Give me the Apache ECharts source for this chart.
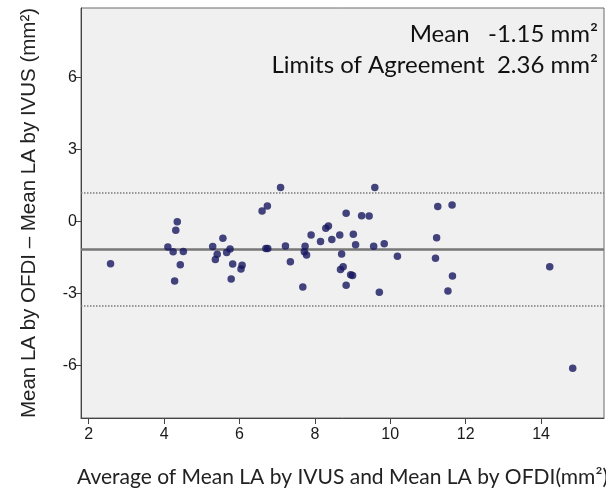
<!DOCTYPE html>
<html>
<head>
<meta charset="utf-8">
<script src="https://cdn.jsdelivr.net/npm/echarts@6/dist/echarts.min.js"></script>
<style>
  html, body { margin: 0; padding: 0; background: #ffffff; }
  #chart { width: 606px; height: 489px; }
</style>
</head>
<body>
<div id="chart"></div>
<script>
// Bland–Altman comparison of mean lumen area, OFDI vs IVUS
const avgArea = [
  2.58, 4.35, 4.31, 4.10, 4.24, 4.51, 4.43, 4.28,
  5.29, 5.41, 5.36, 5.56, 5.66, 5.75, 5.82, 6.04, 6.07, 5.78,
  6.60, 6.74, 7.09, 6.70, 6.75, 7.22, 7.35, 7.74, 7.72, 7.78, 7.68,
  7.90, 8.15, 8.29, 8.36, 8.45, 8.66, 8.71, 8.83, 9.02, 9.08,
  8.68, 8.75, 8.95, 9.00, 8.83, 9.24, 9.44, 9.59, 9.56, 9.84,
  10.19, 9.71, 11.26, 11.64, 11.23, 11.20, 11.65, 11.53, 14.23, 14.84
];
const diffArea = [
  -1.75, 0.00, -0.36, -1.06, -1.25, -1.24, -1.80, -2.47,
  -1.04, -1.36, -1.58, -0.69, -1.29, -1.14, -1.76, -1.97, -1.82, -2.39,
  0.44, 0.65, 1.42, -1.12, -1.12, -1.01, -1.67, -1.03, -1.25, -1.39, -2.72,
  -0.56, -0.83, -0.28, -0.18, -0.74, -0.56, -1.35, 0.35, -0.53, -0.96,
  -1.99, -1.88, -2.21, -2.24, -2.65, 0.25, 0.24, 1.42, -1.03, -0.92,
  -1.44, -2.94, 0.63, 0.69, -0.67, -1.53, -2.26, -2.89, -1.88, -6.11
];
const meanDiff = -1.15;
const limitsOfAgreement = 2.36;
const xTicks = [2, 4, 6, 8, 10, 12, 14];
const yTicks = [-6, -3, 0, 3, 6];

const points = avgArea.map((x, i) => [x, diffArea[i]]);
const upperLimit = +(meanDiff + limitsOfAgreement).toFixed(2);
const lowerLimit = +(meanDiff - limitsOfAgreement).toFixed(2);

const chart = echarts.init(document.getElementById('chart'), null, { renderer: 'canvas' });

const tickFont = { fontFamily: 'Liberation Sans', fontSize: 16, color: '#1a1a1a' };
const noteFont = { fontFamily: 'Lato', fontSize: 24, fill: '#111', textAlign: 'right', textVerticalAlign: 'middle' };

chart.setOption({
  animation: false,
  backgroundColor: '#ffffff',
  grid: {
    left: 81, top: 8, right: 2, bottom: 71,
    outerBoundsMode: 'none',
    containLabel: false,
    show: true,
    backgroundColor: '#f0f0f0',
    borderColor: '#6a6a6a',
    borderWidth: 1
  },
  xAxis: {
    type: 'value',
    min: 1.796,
    max: 15.67,
    splitLine: { show: false },
    axisLine: { show: true, onZero: false, lineStyle: { color: '#444', width: 1 } },
    axisTick: { show: true, length: 6, customValues: xTicks, lineStyle: { color: '#444' } },
    axisLabel: Object.assign({ customValues: xTicks, margin: 9 }, tickFont),
    name: 'Average of Mean LA by IVUS and Mean LA by OFDI(mm²)',
    nameLocation: 'middle',
    nameGap: 49,
    nameTextStyle: { fontFamily: 'Lato', fontSize: 21, color: '#222' }
  },
  yAxis: {
    type: 'value',
    min: -8.18,
    max: 8.9,
    splitLine: { show: false },
    axisLine: { show: true, onZero: false, lineStyle: { color: '#444', width: 1 } },
    axisTick: { show: true, length: 6, customValues: yTicks, lineStyle: { color: '#444' } },
    axisLabel: Object.assign({ customValues: yTicks, margin: 4 }, tickFont),
    name: 'Mean LA by OFDI – Mean LA by IVUS (mm²)',
    nameLocation: 'middle',
    nameGap: 41,
    nameRotate: 90,
    nameTextStyle: { fontFamily: 'Liberation Sans', fontSize: 20.5, color: '#222' }
  },
  graphic: [
    {
      type: 'text',
      x: 598,
      y: 34,
      style: Object.assign({ text: 'Mean   ' + meanDiff.toFixed(2) + ' mm²' }, noteFont)
    },
    {
      type: 'text',
      x: 598,
      y: 65,
      style: Object.assign({ text: 'Limits of Agreement  ' + limitsOfAgreement.toFixed(2) + ' mm²' }, noteFont)
    }
  ],
  series: [
    {
      type: 'scatter',
      data: points,
      symbol: 'circle',
      symbolSize: 7.5,
      itemStyle: { color: '#17175f' },
      z: 5,
      markLine: {
        silent: true,
        symbol: 'none',
        label: { show: false },
        data: [
          { yAxis: meanDiff, lineStyle: { color: '#777777', width: 2.5, type: 'solid' } },
          { yAxis: upperLimit, lineStyle: { color: '#7a7a7a', width: 1.5, type: [1.5, 1.5] } },
          { yAxis: lowerLimit, lineStyle: { color: '#7a7a7a', width: 1.5, type: [1.5, 1.5] } }
        ]
      }
    }
  ]
});
</script>
</body>
</html>
